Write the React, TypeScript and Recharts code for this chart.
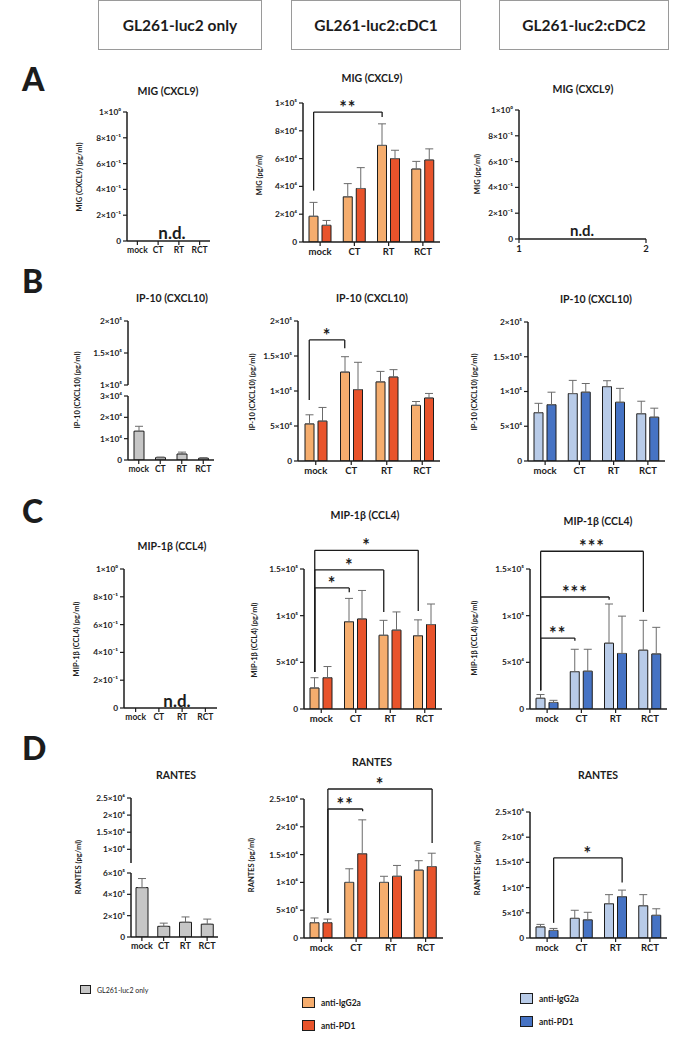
import { BarChart, Bar, XAxis, YAxis, ErrorBar, ReferenceLine } from "recharts";

const FONT = "Lato, 'Open Sans', sans-serif";
const INK = "#1c1c1c";
const GREY = "#c6c6c6";
const ORANGE = "#f5ad6e";
const RED = "#e8532b";
const LBLUE = "#b8cbe8";
const DBLUE = "#4673c4";

const groups = ["mock", "CT", "RT", "RCT"];

// A - MIG (CXCL9), cDC1 (cDC2 and tumour only: n.d.)
const migC1Igg = [18500, 32500, 69500, 52500];
const migC1IggSd = [10000, 9500, 15500, 5500];
const migC1Pd1 = [12000, 38500, 60000, 59000];
const migC1Pd1Sd = [3500, 15000, 6000, 8000];

// B - IP-10 (CXCL10)
const ipOnly = [13500, 1100, 2800, 800];
const ipOnlySd = [2300, 300, 900, 300];
const ipC1Igg = [53000, 127000, 113000, 79500];
const ipC1IggSd = [13000, 22000, 15000, 5500];
const ipC1Pd1 = [57000, 102000, 120000, 90000];
const ipC1Pd1Sd = [19500, 39000, 10500, 6500];
const ipC2Igg = [69500, 97000, 107000, 68000];
const ipC2IggSd = [13500, 19000, 8500, 18000];
const ipC2Pd1 = [81000, 99000, 84500, 63000];
const ipC2Pd1Sd = [18000, 12500, 20000, 13000];

// C - MIP-1β (CCL4)
const mipC1Igg = [22500, 93500, 79000, 78500];
const mipC1IggSd = [11000, 25000, 16000, 17000];
const mipC1Pd1 = [33500, 96500, 84500, 90500];
const mipC1Pd1Sd = [12000, 30500, 19500, 22000];
const mipC2Igg = [11500, 40000, 70500, 63000];
const mipC2IggSd = [4000, 24000, 42000, 32000];
const mipC2Pd1 = [7000, 40500, 59500, 59000];
const mipC2Pd1Sd = [2300, 23500, 40000, 28500];

// D - RANTES
const rantesOnly = [463000, 100000, 138000, 120000];
const rantesOnlySd = [85000, 30000, 50000, 48000];
const rantesC1Igg = [275000, 1000000, 1000000, 1220000];
const rantesC1IggSd = [85000, 245000, 110000, 170000];
const rantesC1Pd1 = [275000, 1515000, 1110000, 1285000];
const rantesC1Pd1Sd = [65000, 610000, 195000, 240000];
const rantesC2Igg = [220000, 390000, 680000, 640000];
const rantesC2IggSd = [50000, 160000, 180000, 220000];
const rantesC2Pd1 = [150000, 360000, 820000, 450000];
const rantesC2Pd1Sd = [40000, 150000, 130000, 130000];

// significance brackets: [group, series] ends, values in pg/ml
const migC1Sig = [{ from: [0, 0], to: [2, 0], top: 93500, dropA: 37000, dropB: 90000, stars: "**" }];
const ipC1Sig = [{ from: [0, 0], to: [1, 0], top: 173000, dropA: 87000, dropB: 161000, stars: "*" }];
const mipC1Sig = [
  { from: [0, 0], to: [1, 0], top: 129700, dropA: 39700, dropB: 125000, stars: "*" },
  { from: [0, 0], to: [2, 0], top: 149000, dropA: 39700, dropB: 104000, stars: "*" },
  { from: [0, 0], to: [3, 0], top: 170000, dropA: 39700, dropB: 105000, stars: "*" },
];
const mipC2Sig = [
  { from: [0, 0], to: [1, 0], top: 76000, dropA: 20000, dropB: 73000, stars: "**" },
  { from: [0, 0], to: [2, 0], top: 120000, dropA: 20000, dropB: 117000, stars: "***" },
  { from: [0, 0], to: [3, 0], top: 169000, dropA: 20000, dropB: 104000, stars: "***" },
];
const rantesC1Sig = [
  { from: [0, 1], to: [1, 1], top: 2320000, dropA: 450000, dropB: 2280000, stars: "**" },
  { from: [0, 1], to: [3, 1], top: 2680000, dropA: 450000, dropB: 1710000, stars: "*" },
];
const rantesC2Sig = [{ from: [0, 1], to: [2, 1], top: 1590000, dropA: 300000, dropB: 1100000, stars: "*" }];

const ndTicks = [0, 0.2, 0.4, 0.6, 0.8, 1];

const SUP: Record<string, string> = {
  "0": "⁰", "1": "¹", "2": "²", "3": "³", "4": "⁴", "5": "⁵", "6": "⁶", "7": "⁷", "8": "⁸", "9": "⁹", "-": "⁻",
};
function sci(v: number): string {
  if (v === 0) return "0";
  const e = Math.floor(Math.log10(v) + 1e-9);
  const m = Math.round((v / Math.pow(10, e)) * 100) / 100;
  return `${m}×10${String(e).split("").map((c) => SUP[c]).join("")}`;
}

type Series = { vals: number[]; sd: number[]; fill: string };
type Sig = { from: number[]; to: number[]; top: number; dropA: number; dropB: number; stars: string };
interface PanelProps {
  x0: number; x1: number; yTop: number; yBot: number;
  domain: number[]; ticks: number[];
  series?: Series[]; sig?: Sig[];
  hideX?: boolean; numX?: boolean;
  barSize?: number; xFont?: number;
}

const axisLine = { stroke: INK, strokeWidth: 1.5 };
const tickLine = { stroke: INK, strokeWidth: 1.2 };

function Panel({ x0, x1, yTop, yBot, domain, ticks, series = [], sig = [], hideX, numX, barSize = 9, xFont = 9.5 }: PanelProps) {
  const YW = 50, MT = 60, MR = 10;
  const XH = hideX ? 0 : 26;
  const MB = hideX ? 7 : 0;
  const barGap = 4;
  const plotW = x1 - x0;
  const band = plotW / groups.length;
  const n = series.length;
  const off = n > 1 ? (barSize + barGap) / 2 / band : 0;
  const xOf = (g: number, k: number) => g + 0.5 + (n > 1 ? (k === 0 ? -off : off) : 0);
  const data = numX
    ? [{ x: 1 }, { x: 2 }]
    : groups.map((g, i) => {
        const row: Record<string, unknown> = { g, pos: i + 0.5 };
        series.forEach((s, k) => {
          row[`v${k}`] = s.vals[i];
          row[`e${k}`] = [0, s.sd[i]];
        });
        return row;
      });
  const xTick = { fontSize: xFont, fontWeight: 700, fill: INK, fontFamily: FONT };
  return (
    <div style={{ position: "absolute", left: x0 - YW, top: yTop - MT }}>
      <BarChart
        width={plotW + YW + MR}
        height={yBot - yTop + MT + XH + MB}
        data={data}
        margin={{ top: MT, right: MR, left: 0, bottom: MB }}
        barSize={barSize}
        barGap={barGap}
      >
        {numX ? (
          <XAxis dataKey="x" type="number" domain={[1, 2]} ticks={[1, 2]} height={XH}
            tick={xTick} tickSize={4} tickMargin={2} axisLine={axisLine} tickLine={tickLine} />
        ) : (
          <XAxis dataKey="g" hide={hideX} height={XH} interval={0}
            tick={xTick} tickSize={4} tickMargin={2} axisLine={axisLine} tickLine={tickLine} />
        )}
        {!numX && <XAxis xAxisId="n" dataKey="pos" type="number" domain={[0, 4]} hide allowDataOverflow />}
        <YAxis
          width={YW}
          domain={domain}
          ticks={ticks}
          interval={0}
          allowDataOverflow
          tickFormatter={sci}
          tick={{ fontSize: 8.3, fontWeight: 700, fill: INK, fontFamily: FONT }}
          tickSize={4}
          tickMargin={2}
          axisLine={axisLine}
          tickLine={tickLine}
        />
        {series.map((s, k) => (
          <Bar key={k} dataKey={`v${k}`} fill={s.fill} stroke={INK} strokeWidth={1} isAnimationActive={false}>
            <ErrorBar dataKey={`e${k}`} width={4} stroke="#6b6b6b" strokeWidth={1} direction="y" />
          </Bar>
        ))}
        {sig.flatMap((b, i) => {
          const xa = xOf(b.from[0], b.from[1]);
          const xb = xOf(b.to[0], b.to[1]);
          return [
            <ReferenceLine key={`l${i}`} xAxisId="n" stroke={INK} strokeWidth={1.3} ifOverflow="visible"
              segment={[{ x: xa, y: b.dropA }, { x: xa, y: b.top }]} />,
            <ReferenceLine key={`t${i}`} xAxisId="n" stroke={INK} strokeWidth={1.3} ifOverflow="visible"
              segment={[{ x: xa, y: b.top }, { x: xb, y: b.top }]}
              label={{ value: b.stars, position: "top", offset: -2, fill: INK, fontSize: 18, fontWeight: 700, fontFamily: FONT, letterSpacing: 1 }} />,
            <ReferenceLine key={`r${i}`} xAxisId="n" stroke={INK} strokeWidth={1.3} ifOverflow="visible"
              segment={[{ x: xb, y: b.top }, { x: xb, y: b.dropB }]} />,
          ];
        })}
      </BarChart>
    </div>
  );
}

function Txt({ x, y, size, children, weight = 700, rotate = false }: { x: number; y: number; size: number; children: string; weight?: number; rotate?: boolean }) {
  return (
    <div style={{
      position: "absolute", left: x, top: y, fontSize: size, fontWeight: weight, lineHeight: 1,
      whiteSpace: "nowrap", color: INK,
      transform: `translate(-50%, -50%)${rotate ? " rotate(-90deg)" : ""}`,
    }}>{children}</div>
  );
}

const headers = [
  { t: "GL261-luc2 only", x: 98, w: 164 },
  { t: "GL261-luc2:cDC1", x: 291, w: 170 },
  { t: "GL261-luc2:cDC2", x: 499, w: 170 },
];
const letters = [{ t: "A", y: 63 }, { t: "B", y: 265 }, { t: "C", y: 495 }, { t: "D", y: 732 }];
const titles = [
  { t: "MIG (CXCL9)", x: 168, y: 91 }, { t: "MIG (CXCL9)", x: 372, y: 78 }, { t: "MIG (CXCL9)", x: 583, y: 89 },
  { t: "IP-10 (CXCL10)", x: 172, y: 298 }, { t: "IP-10 (CXCL10)", x: 372, y: 298 }, { t: "IP-10 (CXCL10)", x: 596, y: 299 },
  { t: "MIP-1β (CCL4)", x: 172, y: 546 }, { t: "MIP-1β (CCL4)", x: 365, y: 515 }, { t: "MIP-1β (CCL4)", x: 598, y: 521 },
  { t: "RANTES", x: 176, y: 775 }, { t: "RANTES", x: 372, y: 762 }, { t: "RANTES", x: 598, y: 775 },
];
const yLabels = [
  { t: "MIG (CXCL9) (pg/ml)", x: 80, y: 177 }, { t: "MIG (pg/ml)", x: 260, y: 175 }, { t: "MIG (pg/ml)", x: 478, y: 174 },
  { t: "IP-10 (CXCL10) (pg/ml)", x: 78, y: 390 }, { t: "IP-10 (CXCL10) (pg/ml)", x: 253, y: 392 }, { t: "IP-10 (CXCL10) (pg/ml)", x: 475, y: 392 },
  { t: "MIP-1β (CCL4) (pg/ml)", x: 77, y: 639 }, { t: "MIP-1β (CCL4) (pg/ml)", x: 255, y: 640 }, { t: "MIP-1β (CCL4) (pg/ml)", x: 475, y: 638 },
  { t: "RANTES (pg/ml)", x: 79, y: 867 }, { t: "RANTES (pg/ml)", x: 252, y: 865 }, { t: "RANTES (pg/ml)", x: 478, y: 868 },
];
const legends = [
  { t: "GL261-luc2 only", c: GREY, x: 80, y: 985, s: 11, f: 7, w: 400 },
  { t: "anti-IgG2a", c: ORANGE, x: 302, y: 997, s: 13, f: 8.5, w: 700 },
  { t: "anti-PD1", c: RED, x: 302, y: 1020, s: 13, f: 8.5, w: 700 },
  { t: "anti-IgG2a", c: LBLUE, x: 520, y: 993, s: 13, f: 8.5, w: 700 },
  { t: "anti-PD1", c: DBLUE, x: 520, y: 1016, s: 13, f: 8.5, w: 700 },
];

export default function App() {
  const c1 = (a: number[], b: number[], c: number[], d: number[]): Series[] => [
    { vals: a, sd: b, fill: ORANGE }, { vals: c, sd: d, fill: RED },
  ];
  const c2 = (a: number[], b: number[], c: number[], d: number[]): Series[] => [
    { vals: a, sd: b, fill: LBLUE }, { vals: c, sd: d, fill: DBLUE },
  ];
  return (
    <div style={{ position: "absolute", left: 0, top: 0, width: 700, height: 1046, background: "#fff", fontFamily: FONT, color: INK }}>
      {headers.map((h) => (
        <div key={h.t} style={{
          position: "absolute", left: h.x, top: 0, width: h.w, height: 50, boxSizing: "border-box",
          border: "1px solid #9a9a9a", display: "flex", alignItems: "center", justifyContent: "center",
          fontSize: 15.5, fontWeight: 700,
        }}>{h.t}</div>
      ))}
      {letters.map((l) => (
        <div key={l.t} style={{ position: "absolute", left: 22, top: l.y, fontSize: 32, fontWeight: 900, lineHeight: 1 }}>{l.t}</div>
      ))}
      {titles.map((t, i) => <Txt key={`t${i}`} x={t.x} y={t.y} size={10.5}>{t.t}</Txt>)}
      {yLabels.map((t, i) => <Txt key={`y${i}`} x={t.x} y={t.y} size={7.5} rotate>{t.t}</Txt>)}

      {/* A */}
      <Panel x0={127} x1={210} yTop={112} yBot={241} domain={[0, 1]} ticks={ndTicks} xFont={8.5} />
      <Panel x0={303} x1={440} yTop={103} yBot={242} domain={[0, 100000]} ticks={[0, 20000, 40000, 60000, 80000, 100000]}
        series={c1(migC1Igg, migC1IggSd, migC1Pd1, migC1Pd1Sd)} sig={migC1Sig} />
      <Panel x0={519} x1={646} yTop={110} yBot={239} domain={[0, 1]} ticks={ndTicks} numX />

      {/* B */}
      <Panel x0={128} x1={214} yTop={396} yBot={460} domain={[0, 30000]} ticks={[0, 10000, 20000, 30000]}
        series={[{ vals: ipOnly, sd: ipOnlySd, fill: GREY }]} barSize={10} xFont={8.5} />
      <Panel x0={128} x1={214} yTop={321} yBot={385} domain={[100000, 200000]} ticks={[100000, 150000, 200000]} hideX />
      <Panel x0={298} x1={440} yTop={321} yBot={461} domain={[0, 200000]} ticks={[0, 50000, 100000, 150000, 200000]}
        series={c1(ipC1Igg, ipC1IggSd, ipC1Pd1, ipC1Pd1Sd)} sig={ipC1Sig} />
      <Panel x0={528} x1={665} yTop={322} yBot={461} domain={[0, 200000]} ticks={[0, 50000, 100000, 150000, 200000]}
        series={c2(ipC2Igg, ipC2IggSd, ipC2Pd1, ipC2Pd1Sd)} />

      {/* C */}
      <Panel x0={124} x1={217} yTop={569} yBot={708} domain={[0, 1]} ticks={ndTicks} xFont={8.5} />
      <Panel x0={304} x1={442} yTop={569} yBot={709} domain={[0, 150000]} ticks={[0, 50000, 100000, 150000]}
        series={c1(mipC1Igg, mipC1IggSd, mipC1Pd1, mipC1Pd1Sd)} sig={mipC1Sig} />
      <Panel x0={530} x1={667} yTop={569} yBot={709} domain={[0, 150000]} ticks={[0, 50000, 100000, 150000]}
        series={c2(mipC2Igg, mipC2IggSd, mipC2Pd1, mipC2Pd1Sd)} sig={mipC2Sig} />

      {/* D */}
      <Panel x0={131} x1={218} yTop={873} yBot={937} domain={[0, 600000]} ticks={[0, 200000, 400000, 600000]}
        series={[{ vals: rantesOnly, sd: rantesOnlySd, fill: GREY }]} barSize={12} xFont={9} />
      <Panel x0={131} x1={218} yTop={798} yBot={863} domain={[600000, 2500000]} ticks={[1000000, 1500000, 2000000, 2500000]} hideX />
      <Panel x0={304} x1={443} yTop={799} yBot={938} domain={[0, 2500000]} ticks={[0, 500000, 1000000, 1500000, 2000000, 2500000]}
        series={c1(rantesC1Igg, rantesC1IggSd, rantesC1Pd1, rantesC1Pd1Sd)} sig={rantesC1Sig} />
      <Panel x0={530} x1={667} yTop={812} yBot={938} domain={[0, 2500000]} ticks={[0, 500000, 1000000, 1500000, 2000000, 2500000]}
        series={c2(rantesC2Igg, rantesC2IggSd, rantesC2Pd1, rantesC2Pd1Sd)} sig={rantesC2Sig} />

      <Txt x={172} y={232} size={17}>n.d.</Txt>
      <Txt x={582} y={230} size={15}>n.d.</Txt>
      <Txt x={177} y={700} size={17}>n.d.</Txt>

      {legends.map((l, i) => (
        <div key={i} style={{ position: "absolute", left: l.x, top: l.y, display: "flex", alignItems: "center", gap: 6 }}>
          <div style={{ width: l.s, height: l.s - 2, background: l.c, border: `1px solid ${INK}`, boxSizing: "border-box" }} />
          <span style={{ fontSize: l.f, fontWeight: l.w }}>{l.t}</span>
        </div>
      ))}
    </div>
  );
}
